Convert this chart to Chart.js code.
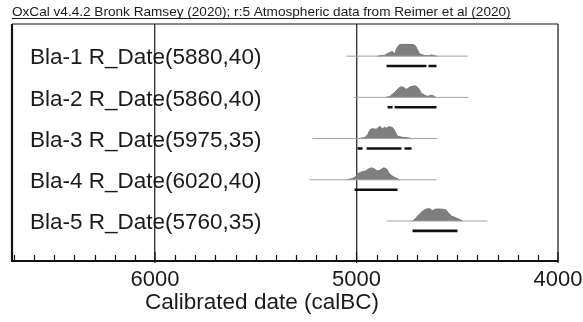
<!DOCTYPE html>
<html>
<head>
<meta charset="utf-8">
<script src="https://cdn.jsdelivr.net/npm/chart.js@4.4.1/dist/chart.umd.min.js"></script>
<style>
  body { margin: 0; background: #fff; }
  #wrap { width: 583px; height: 322px; }
</style>
</head>
<body>
<div id="wrap"><canvas id="oxcal" width="583" height="322"></canvas></div>
<script>
// header + axis text
const headerText = "OxCal v4.4.2 Bronk Ramsey (2020); r:5 Atmospheric data from Reimer et al (2020)";
const axisTitle = "Calibrated date (calBC)";

// samples
const sampleLabels = [
  "Bla-1 R_Date(5880,40)",
  "Bla-2 R_Date(5860,40)",
  "Bla-3 R_Date(5975,35)",
  "Bla-4 R_Date(6020,40)",
  "Bla-5 R_Date(5760,35)"
];
// extent of the thin line under each distribution (calBC)
const lineFrom = [5050, 5015, 5219, 5233, 4851];
const lineTo = [4449, 4444, 4598, 4603, 4350];

// calibrated probability, relative to peak
const bla1Years = [4896, 4860, 4836, 4821, 4810, 4801, 4787, 4750, 4712, 4700, 4687, 4663, 4640, 4628, 4613, 4600];
const bla1Prob  = [0, 0.08, 0.3, 0.35, 0.2, 0.6, 0.92, 0.95, 0.9, 0.6, 0.2, 0.06, 0.04, 0.1, 0.04, 0];
const bla2Years = [4855, 4836, 4811, 4790, 4777, 4764, 4752, 4737, 4712, 4700, 4692, 4677, 4648, 4633, 4618, 4606];
const bla2Prob  = [0, 0.08, 0.4, 0.75, 0.86, 0.78, 0.65, 0.82, 0.94, 0.85, 0.72, 0.32, 0.08, 0.16, 0.12, 0];
const bla3Years = [4995, 4960, 4945, 4932, 4920, 4901, 4886, 4871, 4861, 4851, 4841, 4821, 4806, 4796, 4771, 4752, 4727];
const bla3Prob  = [0, 0.08, 0.32, 0.72, 0.8, 0.76, 0.98, 0.8, 0.92, 0.84, 0.96, 0.88, 0.48, 0.2, 0.1, 0.08, 0];
const bla4Years = [5050, 5025, 5005, 4995, 4975, 4955, 4940, 4925, 4911, 4896, 4881, 4866, 4851, 4836, 4816, 4796, 4786];
const bla4Prob  = [0, 0.08, 0.24, 0.48, 0.64, 0.72, 0.88, 0.96, 0.88, 0.72, 0.8, 0.96, 0.88, 0.48, 0.24, 0.08, 0];
const bla5Years = [4722, 4710, 4697, 4672, 4648, 4633, 4623, 4608, 4583, 4558, 4543, 4528, 4509, 4489, 4474];
const bla5Prob  = [0, 0.15, 0.4, 0.8, 1.0, 0.96, 0.84, 0.96, 0.96, 0.92, 0.64, 0.4, 0.28, 0.12, 0];
const probYears = [bla1Years, bla2Years, bla3Years, bla4Years, bla5Years];
const probValues = [bla1Prob, bla2Prob, bla3Prob, bla4Prob, bla5Prob];

// 95.4% ranges
const bla1Ranges = [[4851, 4653], [4643, 4603]];
const bla2Ranges = [[4846, 4821], [4811, 4603]];
const bla3Ranges = [[4995, 4970], [4950, 4777], [4762, 4727]];
const bla4Ranges = [[5010, 4796]];
const bla5Ranges = [[4722, 4499]];
const ranges = [bla1Ranges, bla2Ranges, bla3Ranges, bla4Ranges, bla5Ranges];

// axis
const tickValues = [6000, 5000, 4000];
const minorTicks = [6700, 6600, 6500, 6400, 6300, 6200, 6100, 5900, 5800, 5700, 5600, 5500, 5400, 5300, 5200, 5100,
                    4900, 4800, 4700, 4600, 4500, 4400, 4300, 4200, 4100];

const rowBase = sampleLabels.map((l, i) => sampleLabels.length - i); // 5..1
const peakH = 0.3;
const rangeOff = 0.24;

var datasets = [];
sampleLabels.forEach(function (lab, i) {
  var b = rowBase[i];
  datasets.push({
    data: [{x: lineFrom[i], y: b}, {x: lineTo[i], y: b}],
    borderColor: "#a0a0a0",
    borderWidth: 1,
    pointRadius: 0,
    showLine: true
  });
  datasets.push({
    data: probYears[i].map((yr, k) => ({x: yr, y: b + probValues[i][k] * peakH})),
    borderColor: "#6e6e6e",
    backgroundColor: "#7f7f7f",
    borderWidth: 1,
    pointRadius: 0,
    showLine: true,
    tension: 0.15,
    fill: {value: b}
  });
  var pts = [];
  ranges[i].forEach(function (r) {
    pts.push({x: r[0], y: b - rangeOff}, {x: r[1], y: b - rangeOff}, {x: (r[1] - 1), y: null});
  });
  datasets.push({
    data: pts,
    borderColor: "#111",
    borderWidth: 2.6,
    pointRadius: 0,
    showLine: true,
    spanGaps: false
  });
});

const framePlugin = {
  id: "frame",
  afterDraw(chart) {
    const ctx = chart.ctx;
    const a = chart.chartArea;
    const xs = chart.scales.x;
    const ys = chart.scales.y;
    ctx.save();
    // frame
    ctx.strokeStyle = "#111";
    ctx.lineWidth = 1.2;
    ctx.beginPath();
    ctx.moveTo(a.left, a.top); ctx.lineTo(a.right, a.top);
    ctx.moveTo(a.right, a.top); ctx.lineTo(a.right, a.bottom);
    ctx.stroke();
    ctx.lineWidth = 2.2;
    ctx.beginPath();
    ctx.moveTo(a.left, a.top); ctx.lineTo(a.left, a.bottom);
    ctx.stroke();
    // minor ticks
    ctx.lineWidth = 1.2;
    ctx.beginPath();
    minorTicks.forEach(function (v) {
      var px = Math.round(xs.getPixelForValue(v)) + 0.5;
      ctx.moveTo(px, a.bottom); ctx.lineTo(px, a.bottom - 6);
    });
    tickValues.forEach(function (v) {
      var px = xs.getPixelForValue(v);
      ctx.moveTo(px, a.bottom + 2); ctx.lineTo(px, a.bottom - 9);
    });
    ctx.stroke();
    // sample labels
    ctx.fillStyle = "#1a1a1a";
    ctx.font = "22.5px 'Liberation Sans', Arial, sans-serif";
    ctx.textBaseline = "middle";
    ctx.textAlign = "left";
    sampleLabels.forEach(function (lab, i) {
      ctx.fillText(lab, 30, ys.getPixelForValue(rowBase[i]) + 2);
    });
    // header
    ctx.font = "13.6px 'Liberation Sans', Arial, sans-serif";
    ctx.textBaseline = "alphabetic";
    ctx.fillText(headerText, 12, 16);
    var w = ctx.measureText(headerText).width;
    ctx.lineWidth = 1;
    ctx.strokeStyle = "#1a1a1a";
    ctx.beginPath();
    ctx.moveTo(12, 18.5); ctx.lineTo(12 + w, 18.5);
    ctx.stroke();
    // axis title
    ctx.font = "22.5px 'Liberation Sans', Arial, sans-serif";
    ctx.textAlign = "center";
    ctx.textBaseline = "middle";
    ctx.fillText(axisTitle, 262, 303);
    ctx.restore();
  }
};

new Chart(document.getElementById("oxcal").getContext("2d"), {
  type: "scatter",
  data: { datasets: datasets },
  options: {
    responsive: false,
    animation: false,
    devicePixelRatio: 1,
    layout: { padding: { left: 12, right: 25, top: 24, bottom: 0 } },
    plugins: { legend: { display: false }, tooltip: { enabled: false } },
    scales: {
      x: {
        type: "linear",
        reverse: true,
        min: 4000,
        max: 6710,
        afterBuildTicks: function (scale) {
          scale.ticks = tickValues.map(v => ({ value: v }));
        },
        afterFit: function (scale) {
          scale.height = 61;
          scale.paddingLeft = 0;
          scale.paddingRight = 0;
        },
        ticks: {
          autoSkip: false,
          maxRotation: 0,
          padding: 6,
          color: "#1a1a1a",
          callback: v => String(v),
          font: { size: 22, family: "'Liberation Sans', Arial, sans-serif" }
        },
        grid: {
          drawOnChartArea: true,
          drawTicks: false,
          color: ctx => (ctx.tick && ctx.tick.value === 4000 ? "rgba(0,0,0,0)" : "#3a3a3a"),
          lineWidth: 1.4
        },
        border: { display: true, color: "#111", width: 2 }
      },
      y: {
        type: "linear",
        display: false,
        min: 0.03,
        max: 5.78
      }
    }
  },
  plugins: [framePlugin]
});
</script>
</body>
</html>
